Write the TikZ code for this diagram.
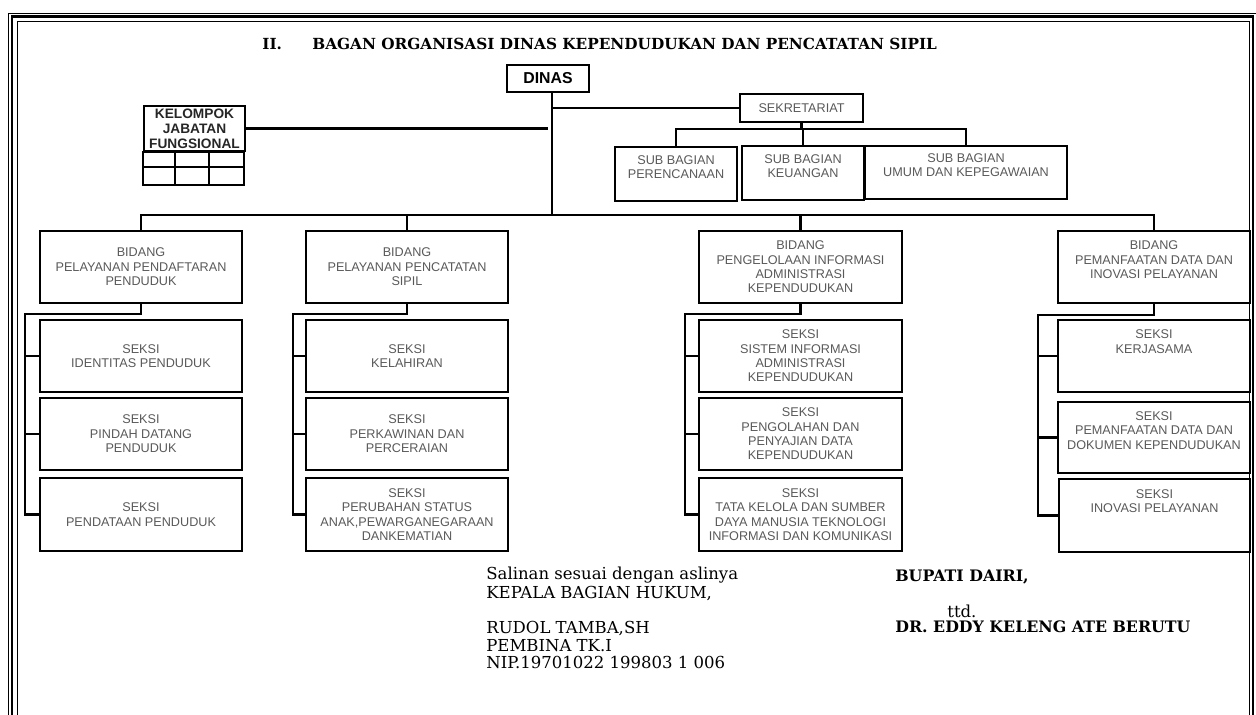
\documentclass[tikz,border=0pt]{standalone}
\usepackage{fontspec}
\setmainfont{DejaVu Serif}
\setsansfont{Liberation Sans}

\tikzset{
  unitbox/.style={draw, line width=1.2pt, inner sep=1pt, align=center, text=black!65,
    font=\sffamily\fontsize{7.2}{8.2}\selectfont},
  headbox/.style={unitbox, text=black!85, font=\sffamily\bfseries\fontsize{7.8}{8.5}\selectfont},
  link/.style={line width=1.2pt},
  doctext/.style={anchor=base west, inner sep=0pt, font=\fontsize{9.4}{11}\selectfont},
  titletext/.style={anchor=base west, inner sep=0pt, font=\bfseries\fontsize{8.7}{10}\selectfont}
}

\begin{document}
\begin{tikzpicture}[x=0.02cm, y=-0.02cm]
\useasboundingbox (0,0) rectangle (1256,715);

% page frame
\draw[line width=0.5pt] (8,715) -- (8,13) -- (1256,13);
\draw[line width=1.6pt] (12,715) -- (12,16.5) -- (1253,16.5) -- (1253,715);
\draw[line width=0.5pt] (17,715) -- (17,21) -- (1249,21) -- (1249,715);

% title
\node[titletext] (num) at (262,50) {II.};
\node[titletext] (title) at (312,50) {BAGAN ORGANISASI DINAS KEPENDUDUKAN DAN PENCATATAN SIPIL};

% top level
\node[headbox, text=black, font=\sffamily\bfseries\fontsize{9}{10}\selectfont,
  minimum width=1.64cm, minimum height=0.54cm] (dinas) at (548,78.5) {DINAS};
\node[unitbox, minimum width=2.46cm, minimum height=0.56cm] (sekr) at (801.5,108) {SEKRETARIAT};
\node[headbox, minimum width=2.02cm, minimum height=0.9cm] (kjf) at (194.5,128.5) {KELOMPOK\\JABATAN\\FUNGSIONAL};
\draw[link] (kjf.south west) rectangle ++(101,33);
\draw[link] (kjf.south west) ++(0,15) -- ++(101,0);
\draw[link] (kjf.south west) ++(32,0) -- ++(0,33);
\draw[link] (kjf.south west) ++(66,0) -- ++(0,33);

% sub bagian
\node[unitbox, minimum width=2.44cm, minimum height=1.08cm] (sbren) at (676,174) {SUB BAGIAN\\PERENCANAAN\\~};
\node[unitbox, minimum width=2.44cm, minimum height=1.08cm] (sbkeu) at (803,173) {SUB BAGIAN\\KEUANGAN\\~};
\node[unitbox, minimum width=4.04cm, minimum height=1.06cm] (sbumum) at (966,172.5) {SUB BAGIAN\\UMUM DAN KEPEGAWAIAN\\~};

% bidang
\node[unitbox, minimum width=4.04cm, minimum height=1.44cm] (b1) at (141,267) {BIDANG\\PELAYANAN PENDAFTARAN\\PENDUDUK};
\node[unitbox, minimum width=4.04cm, minimum height=1.44cm] (b2) at (407,267) {BIDANG\\PELAYANAN PENCATATAN\\SIPIL};
\node[unitbox, minimum width=4.06cm, minimum height=1.44cm] (b3) at (800.5,267) {BIDANG\\PENGELOLAAN INFORMASI\\ADMINISTRASI\\KEPENDUDUKAN};
\node[unitbox, minimum width=3.84cm, minimum height=1.44cm] (b4) at (1154,267) {BIDANG\\PEMANFAATAN DATA DAN\\INOVASI PELAYANAN\\~};

% seksi
\node[unitbox, minimum width=4.04cm, minimum height=1.44cm] (s11) at (141,356) {SEKSI\\IDENTITAS PENDUDUK};
\node[unitbox, minimum width=4.04cm, minimum height=1.44cm] (s12) at (141,434) {SEKSI\\PINDAH DATANG\\PENDUDUK};
\node[unitbox, minimum width=4.04cm, minimum height=1.46cm] (s13) at (141,514.5) {SEKSI\\PENDATAAN PENDUDUK};

\node[unitbox, minimum width=4.04cm, minimum height=1.44cm] (s21) at (407,356) {SEKSI\\KELAHIRAN};
\node[unitbox, minimum width=4.04cm, minimum height=1.44cm] (s22) at (407,434) {SEKSI\\PERKAWINAN DAN\\PERCERAIAN};
\node[unitbox, minimum width=4.04cm, minimum height=1.46cm] (s23) at (407,514.5) {SEKSI\\PERUBAHAN STATUS\\ANAK,PEWARGANEGARAAN\\DANKEMATIAN};

\node[unitbox, minimum width=4.06cm, minimum height=1.44cm] (s31) at (800.5,356) {SEKSI\\SISTEM INFORMASI\\ADMINISTRASI\\KEPENDUDUKAN};
\node[unitbox, minimum width=4.06cm, minimum height=1.44cm] (s32) at (800.5,434) {SEKSI\\PENGOLAHAN DAN\\PENYAJIAN DATA\\KEPENDUDUKAN};
\node[unitbox, minimum width=4.06cm, minimum height=1.46cm] (s33) at (800.5,514.5) {SEKSI\\TATA KELOLA DAN SUMBER\\DAYA MANUSIA TEKNOLOGI\\INFORMASI DAN KOMUNIKASI};

\node[unitbox, minimum width=3.84cm, minimum height=1.44cm] (s41) at (1154,356) {SEKSI\\KERJASAMA\\~\\~};
\node[unitbox, minimum width=3.84cm, minimum height=1.42cm] (s42) at (1154,437.5) {SEKSI\\PEMANFAATAN DATA DAN\\DOKUMEN KEPENDUDUKAN\\~};
\node[unitbox, minimum width=3.82cm, minimum height=1.46cm] (s43) at (1154.5,515.5) {SEKSI\\INOVASI PELAYANAN\\~\\~};

% connectors
\coordinate (bus) at (0,215);
\coordinate (sekbus) at (0,129);
\draw[link] ([xshift=0.08cm]dinas.south) -- ([xshift=0.08cm]dinas.south |- bus);
\draw[link] (b1.north) -- (b1.north |- bus) -| (b4.north);
\draw[link] (b2.north) -- (b2.north |- bus);
\draw[link] (b3.north) -- (b3.north |- bus);
\draw[link] ([xshift=0.08cm]dinas.south |- sekr.west) -- (sekr.west);
\draw[link] (kjf.east) -- (kjf.east -| dinas.south);
\draw[link] (sekr.south) -- (sekr.south |- sekbus);
\draw[link] (sbren.north) -- (sbren.north |- sekbus) -| (sbumum.north);
\draw[link] (sbkeu.north) -- (sbkeu.north |- sekbus);

\draw[link] (b1.south) -- ++(0,10) -| ([xshift=-0.28cm]s13.west) -- (s13.west);
\draw[link] (s11.west) -- ++(-14,0);
\draw[link] (s12.west) -- ++(-14,0);
\draw[link] (b2.south) -- ++(0,10) -| ([xshift=-0.24cm]s23.west) -- (s23.west);
\draw[link] (s21.west) -- ++(-12,0);
\draw[link] (s22.west) -- ++(-12,0);
\draw[link] (b3.south) -- ++(0,10) -| ([xshift=-0.26cm]s33.west) -- (s33.west);
\draw[link] (s31.west) -- ++(-13,0);
\draw[link] (s32.west) -- ++(-13,0);
\draw[link] (b4.south) -- ++(0,11) -| ([xshift=-0.4cm]s43.west) -- (s43.west);
\draw[link] (s41.west) -- ++(-20,0);
\draw[link] (s42.west) -- ++(-20,0);

% signatures
\node[doctext] (salinan) at (486,579) {Salinan sesuai dengan aslinya};
\node[doctext] (kabag) at (486,598) {KEPALA BAGIAN HUKUM,};
\node[doctext] (rudol) at (486,633) {RUDOL TAMBA,SH};
\node[doctext] (pangkat) at (486,651) {PEMBINA TK.I};
\node[doctext] (nip) at (486,668) {NIP.19701022 199803 1 006};
\node[doctext, font=\bfseries\fontsize{9}{11}\selectfont] (bupati) at (895,581) {BUPATI DAIRI,};
\node[doctext] (ttd) at (947,617) {ttd.};
\node[doctext, font=\bfseries\fontsize{9}{11}\selectfont] (eddy) at (895,632) {DR. EDDY KELENG ATE BERUTU};
\end{tikzpicture}
\end{document}
